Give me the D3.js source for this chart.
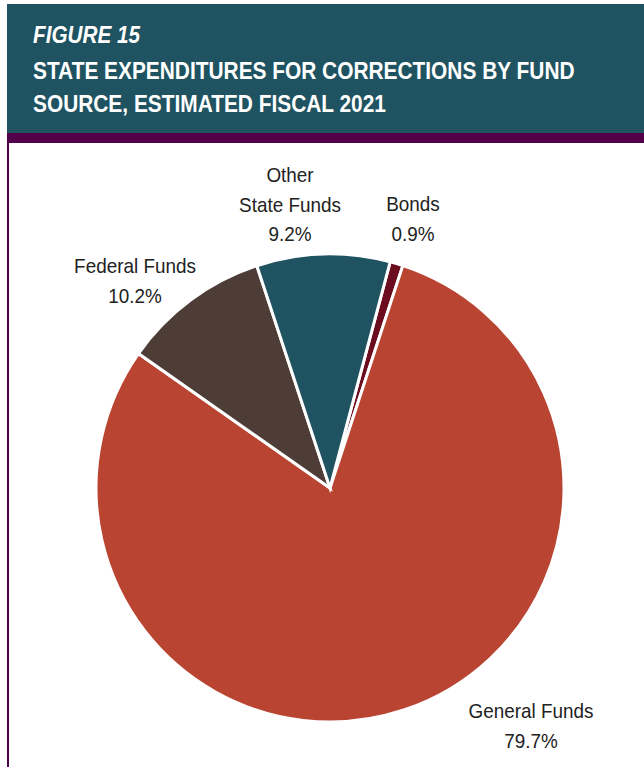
<!DOCTYPE html>
<html>
<head>
<meta charset="utf-8">
<script src="https://cdn.jsdelivr.net/npm/d3@7"></script>
<style>
  html, body { margin: 0; padding: 0; background: #fff; }
  svg { display: block; }
</style>
</head>
<body>
<svg id="chart" width="644" height="767"></svg>
<script>
// Fund sources, in drawing order (clockwise from the top-right)
const categories = ["Bonds", "General Funds", "Federal Funds", "Other State Funds"];
const shares = [0.9, 79.7, 10.2, 9.2];
const labelLines = [["Bonds", "0.9%"], ["General Funds", "79.7%"], ["Federal Funds", "10.2%"], ["Other", "State Funds", "9.2%"]];
const sliceColors = ["#6b0c1f", "#b94432", "#4d3d36", "#1f5361"];

const figureLabel = "FIGURE 15";
const titleLines = ["STATE EXPENDITURES FOR CORRECTIONS BY FUND", "SOURCE, ESTIMATED FISCAL 2021"];

const svg = d3.select("#chart");
const W = 644, H = 767;
const teal = "#1f5361", plum = "#52004a";
const font = "'Liberation Sans', Arial, Helvetica, sans-serif";

// Header band with plum rule and left border
svg.append("rect").attr("x", 7).attr("y", 4).attr("width", W - 7).attr("height", 129).attr("fill", teal);
svg.append("rect").attr("x", 7).attr("y", 133).attr("width", W - 7).attr("height", 10).attr("fill", plum);
svg.append("rect").attr("x", 7).attr("y", 143).attr("width", 2).attr("height", H - 143).attr("fill", plum);

// Condensed-looking text: regular face squeezed horizontally
function narrowText(parent, x, y, str, opts) {
  const g = parent.append("g").attr("transform", `translate(${x},${y}) scale(${opts.sx},1)`);
  return g.append("text")
    .attr("x", 0).attr("y", 0)
    .attr("text-anchor", opts.anchor || "start")
    .attr("fill", opts.fill)
    .attr("font-family", font)
    .attr("font-size", opts.size)
    .attr("font-weight", opts.weight || "normal")
    .attr("font-style", opts.style || "normal")
    .text(str);
}

narrowText(svg, 33, 43, figureLabel, { sx: 0.90, fill: "#fff", size: 23, weight: "bold", style: "italic" });
titleLines.forEach((t, i) => {
  narrowText(svg, 33, 79 + i * 33, t, { sx: 0.87, fill: "#fff", size: 24, weight: "bold" });
});

// Pie
const cx = 330, cy = 488, R = 234;
const startA = 14.9 * Math.PI / 180;
const pie = d3.pie().sort(null).value(d => d.v).startAngle(startA).endAngle(startA + 2 * Math.PI);
const data = categories.map((c, i) => ({ c, v: shares[i], color: sliceColors[i], lines: labelLines[i] }));
const arc = d3.arc().innerRadius(0).outerRadius(R);

const g = svg.append("g").attr("transform", `translate(${cx},${cy})`);
g.selectAll("path").data(pie(data)).join("path")
  .attr("d", arc)
  .attr("fill", d => d.data.color)
  .attr("stroke", "#fff")
  .attr("stroke-width", 3)
  .attr("stroke-linejoin", "miter");

// Slice labels sit outside the rim, near each slice
const labelPos = {
  "Bonds": [413, 211],
  "General Funds": [531, 718],
  "Federal Funds": [135, 273],
  "Other State Funds": [290, 182]
};
data.forEach(d => {
  const [x, y] = labelPos[d.c];
  d.lines.forEach((ln, i) => {
    narrowText(svg, x, y + i * 29.5, ln, { sx: 0.90, fill: "#222", size: 21, anchor: "middle" });
  });
});
</script>
</body>
</html>
